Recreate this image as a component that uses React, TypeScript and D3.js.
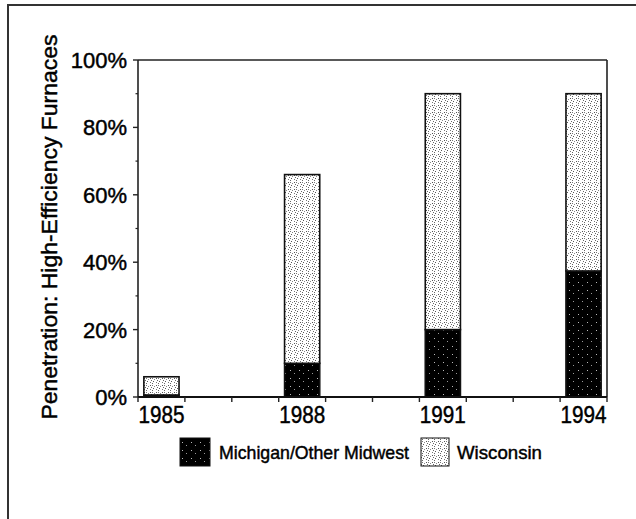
import React from "react";
import * as d3 from "d3";

const years = ["1985", "1986", "1987", "1988", "1989", "1990", "1991", "1992", "1993", "1994"];
const labeledYears = ["1985", "1988", "1991", "1994"];
const michigan = [0.6, 0, 0, 10, 0, 0, 20, 0, 0, 37.4];
const wisconsin = [5.4, 0, 0, 56, 0, 0, 70, 0, 0, 52.6];
const yTicks = [0, 20, 40, 60, 80, 100];
const yMinor = [10, 30, 50, 70, 90];
const seriesNames = ["Michigan/Other Midwest", "Wisconsin"];

const W = 636;
const H = 519;
const left = 138;
const right = 607;
const top = 60;
const bottom = 397;
const font = "Arial, 'Liberation Sans', Helvetica, sans-serif";
const ts = { stroke: "#000", strokeWidth: 0.45 };

export default function App() {
  const x = d3.scaleBand<string>().domain(years).range([left, right]).paddingInner(0.25).paddingOuter(0.125);
  const y = d3.scaleLinear().domain([0, 100]).range([bottom, top]);
  const step = x.step();
  const boundaries = d3.range(years.length + 1).map((i) => left + i * step);

  const stack = years.map((yr, i) => ({ yr, m: michigan[i], w: wisconsin[i] }));

  return (
    <svg width={W} height={H} style={{ position: "absolute", left: 0, top: 0, background: "#fff" }}>
      <defs>
        <pattern id="wis" width="6" height="7" patternUnits="userSpaceOnUse">
          <rect width="6" height="7" fill="#fff" />
          <rect x="0" y="0" width="1" height="1" fill="#555" />
          <rect x="2" y="0" width="1" height="1" fill="#777" />
          <rect x="1" y="2" width="1" height="1" fill="#666" />
          <rect x="3" y="3" width="1" height="1" fill="#555" />
          <rect x="0" y="4" width="1" height="1" fill="#777" />
          <rect x="2" y="5" width="1" height="1" fill="#666" />
          <rect x="4" y="1" width="1" height="1" fill="#888" />
        </pattern>
        <pattern id="mich" width="9" height="8" patternUnits="userSpaceOnUse">
          <rect width="9" height="8" fill="#000" />
          <rect x="2" y="2" width="1" height="1" fill="#bbb" />
          <rect x="6" y="5" width="1" height="1" fill="#999" />
        </pattern>
      </defs>

      {/* outer frame */}
      <rect x={8} y={5} width={700} height={700} fill="none" stroke="#333" strokeWidth={2} />

      {/* bars */}
      {stack.map((d) => {
        const bx = x(d.yr) as number;
        const bw = x.bandwidth();
        return (
          <g key={d.yr}>
            {d.m > 0 && (
              <rect x={bx} y={y(d.m)} width={bw} height={y(0) - y(d.m)} fill="url(#mich)" stroke="#111" strokeWidth={1.6} />
            )}
            {d.w > 0 && (
              <rect x={bx} y={y(d.m + d.w)} width={bw} height={y(d.m) - y(d.m + d.w)} fill="url(#wis)" stroke="#111" strokeWidth={1.6} />
            )}
          </g>
        );
      })}

      {/* plot frame */}
      <line x1={left} x2={right} y1={top} y2={top} stroke="#222" strokeWidth={1.6} />
      <line x1={right} x2={right} y1={top} y2={bottom} stroke="#222" strokeWidth={1.6} />
      <line x1={left} x2={left} y1={top} y2={bottom} stroke="#222" strokeWidth={1.6} />
      <line x1={left} x2={right} y1={bottom} y2={bottom} stroke="#111" strokeWidth={2} />

      {/* y ticks */}
      {yTicks.map((t) => (
        <g key={"y" + t}>
          <line x1={left - 5} x2={left} y1={y(t)} y2={y(t)} stroke="#222" strokeWidth={1.4} />
          <text x={127} y={y(t) + 8} textAnchor="end" fontFamily={font} fontSize={22} fill="#000" {...ts}>
            {t + "%"}
          </text>
        </g>
      ))}
      {yMinor.map((t) => (
        <line key={"ym" + t} x1={left - 2.5} x2={left} y1={y(t)} y2={y(t)} stroke="#222" strokeWidth={1.2} />
      ))}

      {/* x ticks */}
      {boundaries.map((bx, i) => (
        <line key={"xt" + i} x1={bx} x2={bx} y1={bottom} y2={bottom + 5} stroke="#222" strokeWidth={1.4} />
      ))}
      {labeledYears.map((yr) => (
        <text
          key={"xl" + yr}
          x={(x(yr) as number) + x.bandwidth() / 2}
          y={423}
          textAnchor="middle"
          fontFamily={font}
          fontSize={23}
          textLength={46}
          lengthAdjust="spacingAndGlyphs"
          fill="#000"
          {...ts}
        >
          {yr}
        </text>
      ))}

      {/* y title */}
      <text
        transform={`translate(57, ${227}) rotate(-90)`}
        textAnchor="middle"
        fontFamily={font}
        fontSize={22}
        textLength={385}
        lengthAdjust="spacingAndGlyphs"
        fill="#000"
        {...ts}
      >
        Penetration: High-Efficiency Furnaces
      </text>

      {/* legend */}
      <rect x={180} y={438} width={30} height={28} fill="url(#mich)" stroke="#111" strokeWidth={1} />
      <text x={219} y={459} fontFamily={font} fontSize={19} textLength={190} lengthAdjust="spacingAndGlyphs" fill="#000" {...ts}>
        {seriesNames[0]}
      </text>
      <rect x={421} y={438} width={28} height={28} fill="url(#wis)" stroke="#111" strokeWidth={1} />
      <text x={457} y={459} fontFamily={font} fontSize={19} textLength={85} lengthAdjust="spacingAndGlyphs" fill="#000" {...ts}>
        {seriesNames[1]}
      </text>
    </svg>
  );
}
